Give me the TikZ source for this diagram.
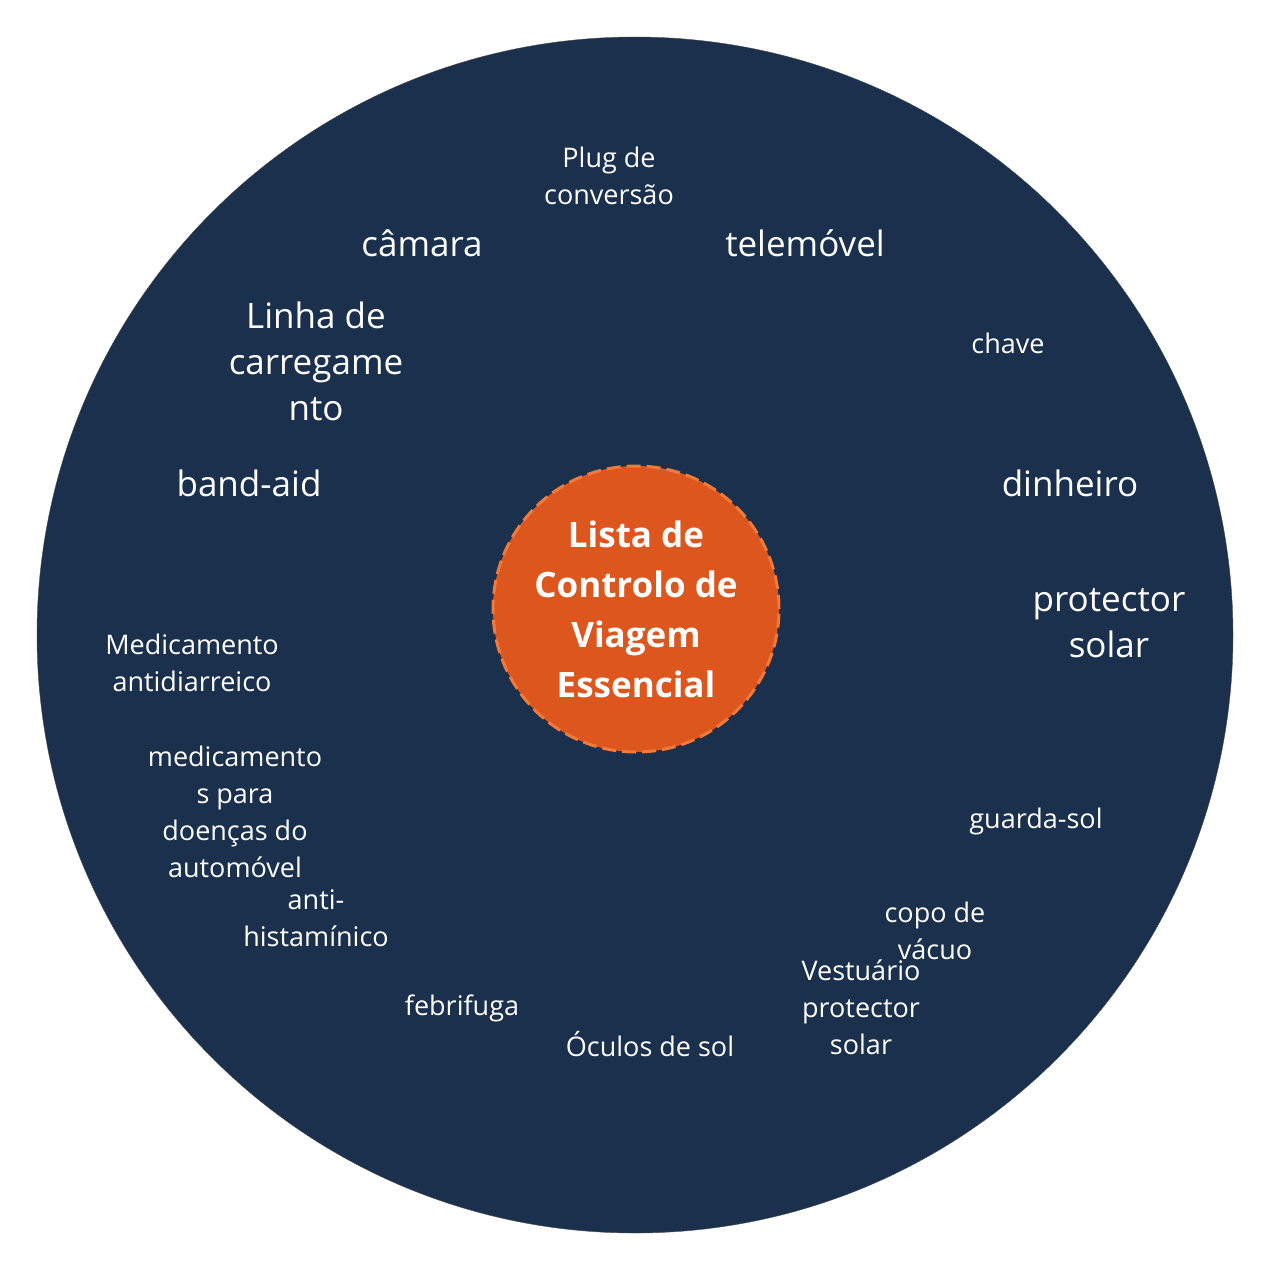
\documentclass[tikz,border=0pt]{standalone}
\usepackage{fontspec}
\setmainfont{Open Sans}
\definecolor{navy}{HTML}{1A304C}
\definecolor{rust}{HTML}{DC561E}
\definecolor{rustedge}{HTML}{F07A3C}
\tikzstyle{item}=[text=white,align=center,inner sep=0pt]
\tikzstyle{big item}=[item,font=\fontsize{35}{46}\selectfont]
\tikzstyle{small item}=[item,font=\fontsize{27}{37}\selectfont]
\begin{document}
\begin{tikzpicture}[x=1pt,y=-1pt]
    \useasboundingbox (0,0) rectangle (1270,1270);
    \node[circle,fill=navy,draw=black!70,minimum size=1196pt,inner sep=0pt] (disc) at (635,635) {};
    \node[circle,fill=rust,draw=rustedge,line width=3pt,dash pattern=on 14pt off 6pt,
          minimum size=286pt,inner sep=0pt,text=white,align=center,
          font=\bfseries\fontsize{35}{50}\selectfont] (hub) at (636,609)
          {Lista de\\Controlo de\\Viagem\\Essencial};
    \foreach \pos/\name/\txt in {{(422,243)/camara/câmara}, {(805,243)/telemovel/telemóvel},
                            {(316,361)/linha/Linha de\\carregame\\nto}, {(249,483)/bandaid/band-aid},
                            {(1070,483)/dinheiro/dinheiro}, {(1109,623)/protector/protector\\solar}}
        \node[big item] (\name) at \pos {\txt};
    \foreach \pos/\name/\txt in {{(609,176)/plug/Plug de\\conversão}, {(1008,343)/chave/chave},
                            {(192,663)/antidiarreico/Medicamento\\antidiarreico},
                            {(235,812)/enjoo/medicamento\\s para\\doenças do\\automóvel},
                            {(316,918)/anti/anti-\\histamínico}, {(1036,821)/guardasol/guarda-sol},
                            {(935,931)/copo/copo de\\vácuo}, {(861,1007)/vestuario/Vestuário\\protector\\solar},
                            {(462,1008)/febrifuga/febrifuga}, {(650,1044)/oculos/Óculos de sol}}
        \node[small item] (\name) at \pos {\txt};
\end{tikzpicture}
\end{document}
